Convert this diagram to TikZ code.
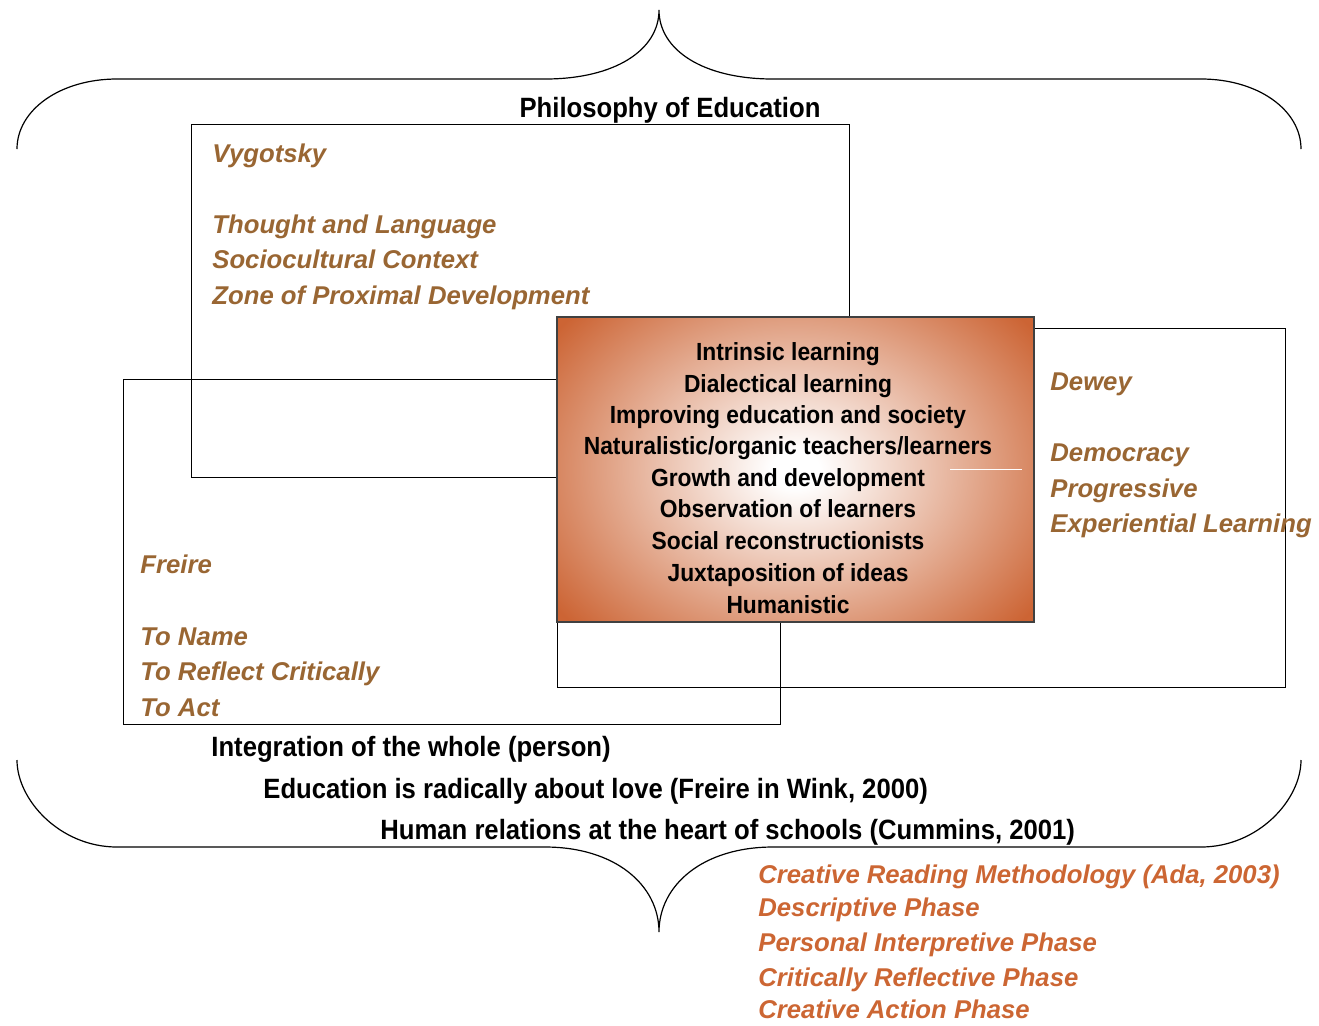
\documentclass[tikz,border=0pt]{standalone}
\usepackage{fontspec}
\setmainfont{Liberation Sans}
\newfontfamily\narrowsans[FakeStretch=0.92]{Liberation Sans}
\usepackage{tikz}
\usetikzlibrary{backgrounds}
\definecolor{tbrown}{RGB}{153,102,51}
\definecolor{torange}{RGB}{204,102,51}
\definecolor{coreorange}{RGB}{204,100,52}
\pgfdeclareradialshading{coreglow}{\pgfpoint{0bp}{0bp}}{color(0bp)=(white); color(2bp)=(white); color(25bp)=(coreorange); color(50bp)=(coreorange)}
\pgfdeclarelayer{edgelayer}
\pgfdeclarelayer{nodelayer}
\pgfsetlayers{edgelayer,nodelayer,main}
\tikzstyle{frame}=[-,draw=black,line width=0.5]
\tikzstyle{coreframe}=[-,draw=black!75,line width=0.6]
\tikzstyle{brace}=[-,draw=black,line width=0.6]
\tikzstyle{thinker}=[anchor=base west,inner sep=0pt,text=tbrown,font=\fontsize{12.85}{15}\selectfont\bfseries\itshape]
\tikzstyle{phase}=[style=thinker,text=torange]
\tikzstyle{core}=[anchor=base,inner sep=0pt,font=\narrowsans\fontsize{12.4}{15}\selectfont\bfseries]
\tikzstyle{claim}=[anchor=base west,inner sep=0pt,font=\narrowsans\fontsize{13.95}{16}\selectfont\bfseries]

\begin{document}
\begin{tikzpicture}[x=0.5pt,y=-0.5pt]
	\useasboundingbox (0,0) rectangle (1319,1025);
	\begin{pgfonlayer}{edgelayer}
		\coordinate (vygNW) at (191,124);
		\coordinate (vygSE) at (849,477);
		\coordinate (frNW) at (123,379);
		\coordinate (frSE) at (780,724);
		\coordinate (dwNW) at (557,328);
		\coordinate (dwSE) at (1285,687);
		\draw [style=frame] (vygNW) rectangle (vygSE);
		\draw [style=frame] (frNW) rectangle (frSE);
		\draw [style=frame] (dwNW) rectangle (dwSE);
		% braces
		\coordinate (topL) at (17,149);
		\coordinate (topTip) at (659,10);
		\coordinate (topR) at (1301,149);
		\draw [style=brace] (topL) .. controls (17,110) and (60,79) .. (117,79) -- (545,79)
			.. controls (615,79) and (659,50) .. (topTip)
			.. controls (659,50) and (703,79) .. (773,79) -- (1201,79)
			.. controls (1258,79) and (1301,110) .. (topR);
		\coordinate (botL) at (17,760);
		\coordinate (botTip) at (659,932);
		\coordinate (botR) at (1301,760);
		\draw [style=brace] (botL) .. controls (17,800) and (60,847) .. (117,847) -- (545,847)
			.. controls (615,847) and (659,885) .. (botTip)
			.. controls (659,885) and (703,847) .. (773,847) -- (1201,847)
			.. controls (1258,847) and (1301,800) .. (botR);
	\end{pgfonlayer}
	\begin{pgfonlayer}{nodelayer}
		\coordinate (coreNW) at (557,317);
		\coordinate (coreSE) at (1034,622);
		\coordinate (coreC) at (795.5,469.5);
		\fill [coreorange] (coreNW) rectangle (coreSE);
		\begin{scope}
			\clip (coreNW) rectangle (coreSE);
			\shade [shading=coreglow] (coreC) ellipse [x radius=300, y radius=230];
		\end{scope}
		\draw [style=coreframe] (coreNW) rectangle (coreSE);
		\draw [white,line width=0.5] (950,469) -- (1022,469);

		\node [style=claim,anchor=base] (title) at (670,117) {Philosophy of Education};

		\node [style=thinker] (vyg) at (212,162) {Vygotsky};
		\node [style=thinker] (vyg1) at (212,233) {Thought and Language};
		\node [style=thinker] (vyg2) at (212,268) {Sociocultural Context};
		\node [style=thinker] (vyg3) at (212,304) {Zone of Proximal Development};

		\node [style=thinker] (dew) at (1050,390) {Dewey};
		\node [style=thinker] (dew1) at (1050,461) {Democracy};
		\node [style=thinker] (dew2) at (1050,497) {Progressive};
		\node [style=thinker] (dew3) at (1050,532) {Experiential Learning};

		\node [style=thinker] (fre) at (140,573) {Freire};
		\node [style=thinker] (fre1) at (140,645) {To Name};
		\node [style=thinker] (fre2) at (140,680) {To Reflect Critically};
		\node [style=thinker] (fre3) at (140,716) {To Act};

		\node [style=core] (c1) at (788,360) {Intrinsic learning};
		\node [style=core] (c2) at (788,392) {Dialectical learning};
		\node [style=core] (c3) at (788,423) {Improving education and society};
		\node [style=core] (c4) at (788,454) {Naturalistic/organic teachers/learners};
		\node [style=core] (c5) at (788,486) {Growth and development};
		\node [style=core] (c6) at (788,517) {Observation of learners};
		\node [style=core] (c7) at (788,549) {Social reconstructionists};
		\node [style=core] (c8) at (788,581) {Juxtaposition of ideas};
		\node [style=core] (c9) at (788,613) {Humanistic};

		\node [style=claim] (whole) at (211,756) {Integration of the whole (person)};
		\node [style=claim] (love) at (263,798) {Education is radically about love (Freire in Wink, 2000)};
		\node [style=claim] (human) at (380,839) {Human relations at the heart of schools (Cummins, 2001)};

		\node [style=phase] (ada) at (758,883) {Creative Reading Methodology (Ada, 2003)};
		\node [style=phase] (ph1) at (758,916) {Descriptive Phase};
		\node [style=phase] (ph2) at (758,951) {Personal Interpretive Phase};
		\node [style=phase] (ph3) at (758,986) {Critically Reflective Phase};
		\node [style=phase] (ph4) at (758,1018) {Creative Action Phase};
	\end{pgfonlayer}
\end{tikzpicture}
\end{document}
